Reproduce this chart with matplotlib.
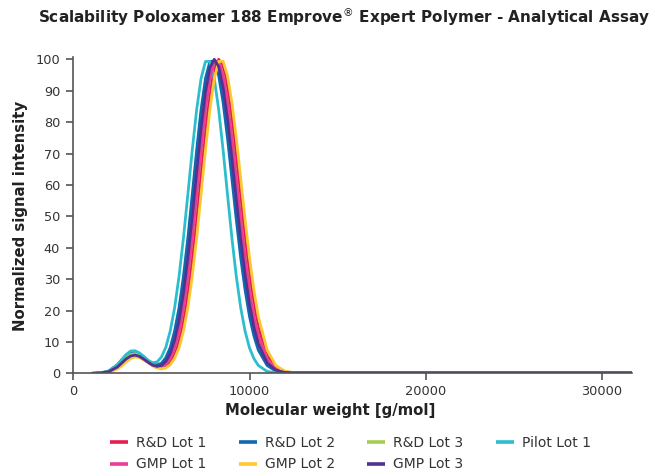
import matplotlib
matplotlib.use("Agg")
import matplotlib.pyplot as plt

# molecular weight grid [g/mol]
mw = [1100, 1500, 2000, 2500, 2750, 3000, 3250, 3500, 3750, 4000,
      4250, 4500, 4750, 5000, 5250, 5500, 5750, 6000, 6250, 6500,
      6750, 7000, 7250, 7500, 7750, 8000, 8250, 8500, 8750, 9000,
      9250, 9500, 9750, 10000, 10250, 10500, 11000, 11500, 12000, 12500,
      13000, 14000, 16000, 20000, 26000, 31700]

# normalized signal intensity per lot
rd_lot1 = [0, 0.1, 0.4, 1.7, 2.9, 4.2, 5.2, 5.6, 5.3, 4.5,
           3.5, 2.5, 1.8, 1.7, 2.2, 3.7, 6.3, 10.5, 16.9, 25.6,
           36.8, 49.9, 64.1, 77.9, 89.5, 97.3, 100, 97.7, 91.0, 80.9,
           68.5, 55.4, 42.7, 31.4, 22.0, 14.7, 5.7, 1.9, 0.5, 0.2,
           0.2, 0.2, 0.2, 0.2, 0.2, 0.2]
rd_lot2 = [0, 0.1, 0.7, 2.7, 4.3, 5.8, 6.8, 6.9, 6.3, 5.2,
           4.0, 3.0, 2.7, 3.2, 5.0, 8.2, 13.5, 20.9, 30.9, 43.1,
           57.0, 71.1, 84.0, 93.9, 99.3, 99.4, 94.8, 86.3, 74.9, 62.0,
           48.9, 36.8, 26.5, 18.1, 11.9, 7.4, 2.5, 0.7, 0.2, 0.2,
           0.2, 0.2, 0.2, 0.2, 0.2, 0.2]
rd_lot3 = [0, 0.1, 0.5, 2.2, 3.5, 5.0, 6.0, 6.3, 5.8, 4.8,
           3.7, 2.7, 2.0, 2.0, 2.9, 4.9, 8.2, 13.4, 20.9, 30.9,
           43.1, 57.0, 71.1, 84.0, 93.9, 99.3, 99.4, 94.8, 86.3, 74.9,
           62.0, 48.9, 36.8, 26.5, 18.1, 11.9, 4.4, 1.4, 0.4, 0.2,
           0.2, 0.2, 0.2, 0.2, 0.2, 0.2]
pilot_lot1 = [0, 0.1, 0.7, 2.8, 4.4, 6.0, 7.1, 7.2, 6.5, 5.4,
              4.1, 3.4, 3.6, 5.2, 8.3, 13.5, 20.9, 30.9, 43.1, 57.0,
              71.1, 84.0, 93.9, 99.3, 99.3, 93.9, 84.0, 71.1, 57.0, 43.1,
              30.9, 20.9, 13.4, 8.1, 4.7, 2.5, 0.6, 0.2, 0.2, 0.2,
              0.2, 0.2, 0.2, 0.2, 0.2, 0.2]
gmp_lot1 = [0, 0.1, 0.4, 1.7, 2.8, 4.1, 5.1, 5.5, 5.2, 4.4,
            3.4, 2.6, 2.0, 2.0, 2.9, 4.9, 8.2, 13.4, 20.9, 30.9,
            43.1, 57.0, 71.1, 84.0, 93.9, 99.3, 99.4, 94.8, 86.3, 74.9,
            62.0, 48.9, 36.8, 26.5, 18.1, 11.9, 4.4, 1.4, 0.4, 0.2,
            0.2, 0.2, 0.2, 0.2, 0.2, 0.2]
gmp_lot2 = [0, 0.0, 0.3, 1.4, 2.4, 3.6, 4.7, 5.2, 5.0, 4.3,
            3.4, 2.4, 1.8, 1.4, 1.7, 2.7, 4.8, 8.1, 13.4, 20.9,
            30.9, 43.1, 57.0, 71.1, 84.0, 93.9, 99.3, 99.4, 94.8, 86.3,
            74.9, 62.0, 48.9, 36.8, 26.5, 18.1, 7.4, 2.5, 0.7, 0.2,
            0.2, 0.2, 0.2, 0.2, 0.2, 0.2]
gmp_lot3 = [0, 0.1, 0.5, 2.0, 3.3, 4.6, 5.5, 5.8, 5.4, 4.5,
            3.5, 2.6, 2.2, 2.5, 3.8, 6.3, 10.6, 16.9, 25.6, 36.8,
            49.9, 64.1, 77.9, 89.5, 97.3, 100, 97.7, 91.0, 80.9, 68.5,
            55.4, 42.7, 31.4, 22.0, 14.7, 9.4, 3.3, 1.0, 0.3, 0.2,
            0.2, 0.2, 0.2, 0.2, 0.2, 0.2]

series = [
    ("R&D Lot 1", rd_lot1, "#E61E50"),
    ("R&D Lot 2", rd_lot2, "#0F69AF"),
    ("R&D Lot 3", rd_lot3, "#A5CD50"),
    ("Pilot Lot 1", pilot_lot1, "#2DBECD"),
    ("GMP Lot 1", gmp_lot1, "#EB3C96"),
    ("GMP Lot 2", gmp_lot2, "#FFC832"),
    ("GMP Lot 3", gmp_lot3, "#503291"),
]

plt.rcParams['font.family'] = ['DejaVu Sans']

fig = plt.figure(figsize=(6.55, 4.76), dpi=100)
ax = fig.add_axes([0.112, 0.2157, 0.8525, 0.665])

handles = {}
for name, vals, col in series:
    line, = ax.plot(mw, vals, color=col, lw=2.0, label=name)
    handles[name] = line

ax.set_xlim(0, 31700)
ax.set_ylim(0, 100.8)
ax.set_xticks([0, 10000, 20000, 30000])
ax.set_yticks(range(0, 101, 10))

for s in ['top', 'right']:
    ax.spines[s].set_visible(False)
for s in ['left', 'bottom']:
    ax.spines[s].set_color('#555555')
    ax.spines[s].set_linewidth(1.2)
ax.tick_params(direction='out', length=5, width=1.2, color='#555555',
               labelcolor='#333333', labelsize=9.3)
ax.tick_params(axis='y', pad=4.5)

fig.text(0.526, 0.964, "Scalability Poloxamer 188 Emprove$^{\\circledR}$ Expert Polymer - Analytical Assay",
         ha='center', va='center', fontsize=11, fontweight='bold', color='#222222')
fig.text(0.031, 0.546, "Normalized signal intensity", rotation=90, ha='center', va='center',
         fontsize=10.7, fontweight='bold', color='#222222')
fig.text(0.504, 0.137, "Molecular weight [g/mol]", ha='center', va='center',
         fontsize=10.7, fontweight='bold', color='#222222')

order = ["R&D Lot 1", "GMP Lot 1", "R&D Lot 2", "GMP Lot 2", "R&D Lot 3", "GMP Lot 3", "Pilot Lot 1"]
leg = fig.legend([handles[n] for n in order], order, ncol=4, loc='center',
                 bbox_to_anchor=(0.535, 0.047), frameon=False, fontsize=10,
                 handlelength=1.3, handletextpad=0.55, columnspacing=2.35,
                 labelspacing=0.55, labelcolor='#333333')
for h in leg.legend_handles:
    h.set_linewidth(2.6)
    h.set_solid_capstyle('butt')

fig.savefig("out.png", dpi=100)
